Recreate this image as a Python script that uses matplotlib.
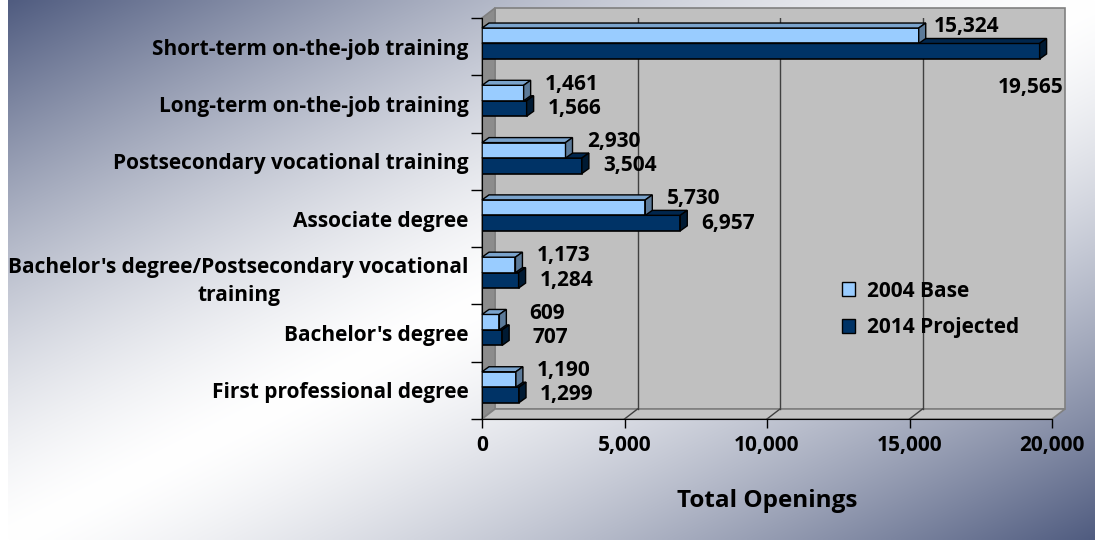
import numpy as np
import matplotlib
matplotlib.use("Agg")
import matplotlib.pyplot as plt
from matplotlib.patches import Polygon, Patch
from matplotlib.transforms import IdentityTransform

# ---------------- data ----------------
categories = [
    "Short-term on-the-job training",
    "Long-term on-the-job training",
    "Postsecondary vocational training",
    "Associate degree",
    "Bachelor's degree/Postsecondary vocational\ntraining",
    "Bachelor's degree",
    "First professional degree",
]
base_2004 = [15324, 1461, 2930, 5730, 1173, 609, 1190]
proj_2014 = [19565, 1566, 3504, 6957, 1284, 707, 1299]
series_names = ["2004 Base", "2014 Projected"]
xticks = [0, 5000, 10000, 15000, 20000]
xlabel = "Total Openings"

# ---------------- style ----------------
W, H = 1097, 540
FONT = "Open Sans"
FS = 15
plt.rcParams["font.family"] = [FONT, "DejaVu Sans"]
plt.rcParams["font.weight"] = "bold"

light, dark = "#99CCFF", "#003366"
light_top, light_side = "#7AA3CC", "#5C7A99"
dark_top, dark_side = "#00264D", "#001A33"
wall_c, left_c, floor_c = "#C0C0C0", "#8C8C8C", "#C4C4C4"
DX, DY = 13, 10        # wall depth (pixels)
BDX, BDY = 7, 5        # bar depth (pixels)

fig = plt.figure(figsize=(W / 100, H / 100), dpi=100)
fig.patch.set_facecolor("white")

# background gradient
bg = fig.add_axes([8 / W, 0, (1095 - 8) / W, 1], zorder=0)
gx = np.linspace(0, 1, 400)
gy = np.linspace(0, 1, 200)
GX, GY = np.meshgrid(gx, gy)
s = np.abs((GX + GY) - 1.0) ** 1.4
dark_bg = np.array([80, 92, 128]) / 255.0
img = (1 - s)[..., None] * np.array([1, 1, 1]) + s[..., None] * dark_bg
bg.imshow(img, aspect="auto", extent=[0, 1, 1, 0], interpolation="bilinear")
bg.set_xlim(0, 1); bg.set_ylim(1, 0)
bg.axis("off")

# main axes = front plane
x0, x1, ytop, ybot = 482, 1052, 18, 419
ax = fig.add_axes([x0 / W, 1 - ybot / H, (x1 - x0) / W, (ybot - ytop) / H], zorder=2)
ax.patch.set_visible(False)
n = len(categories)
ax.set_xlim(0, 20000)
ax.set_ylim(n, 0)

T = ax.transData


def disp(pts):
    return T.transform(np.asarray(pts, dtype=float))


def poly(pts_disp, fc, ec, lw=1.0, z=1):
    p = Polygon(pts_disp, closed=True, transform=IdentityTransform(),
                facecolor=fc, edgecolor=ec, linewidth=lw, zorder=z, clip_on=False)
    ax.add_artist(p)
    return p


xmax = ax.get_xlim()[1]
# walls
corners = disp([(0, n), (xmax, n), (xmax, 0), (0, 0)])
off = np.array([DX, DY])
back = corners + off
poly(back, wall_c, "#808080", 1.2, z=0.5)
poly(np.array([corners[0], corners[3], back[3], back[0]]), left_c, "#808080", 1.2, z=0.6)
poly(np.array([corners[0], corners[1], back[1], back[0]]), floor_c, "#808080", 1.2, z=0.6)

# gridlines on back wall and floor
for t in xticks[1:-1]:
    a = disp([(t, n)])[0]
    b = disp([(t, 0)])[0]
    ax.add_line(plt.Line2D([a[0] + DX, b[0] + DX], [a[1] + DY, b[1] + DY],
                           transform=IdentityTransform(), color="#404040", lw=1.0, zorder=0.8))
    ax.add_line(plt.Line2D([a[0], a[0] + DX], [a[1], a[1] + DY],
                           transform=IdentityTransform(), color="#404040", lw=1.0, zorder=0.8))

# bars
h = 0.27
center = np.arange(n) + 0.445
y_light = center - h / 2
y_dark = center + h / 2


def bar3d(vals, ys, fc, ftop, fside, z):
    ax.barh(ys, vals, height=h, color=fc, edgecolor="black", linewidth=1.2, zorder=z)
    for v, y in zip(vals, ys):
        tl, tr, br = disp([(0, y - h / 2), (v, y - h / 2), (v, y + h / 2)])
        poly([tl, tr, tr + [BDX, BDY], tl + [BDX, BDY]], ftop, "black", 1.0, z)
        poly([tr, br, br + [BDX, BDY], tr + [BDX, BDY]], fside, "black", 1.0, z)


bar3d(proj_2014, y_dark, dark, dark_top, dark_side, 2)
bar3d(base_2004, y_light, light, light_top, light_side, 3)

# value labels
lab_kw = dict(textcoords="offset pixels", ha="center", va="center",
              fontsize=FS, fontweight="bold", zorder=5, annotation_clip=False)
px_per_unit = (x1 - x0) / xmax
for v, y in zip(base_2004, y_light):
    ax.annotate(f"{v:,}", xy=(v, y), xytext=(48, 9), **lab_kw)
for v, y in zip(proj_2014, y_dark):
    if v * px_per_unit + 48 + 32 > (x1 - x0) + DX:
        ax.annotate(f"{v:,}", xy=(xmax, y), xytext=(-21, -36), **lab_kw)
    else:
        ax.annotate(f"{v:,}", xy=(v, y), xytext=(48, 0), **lab_kw)

# axes / ticks
for sname in ["top", "right"]:
    ax.spines[sname].set_visible(False)
ax.spines["bottom"].set_color("black")
ax.spines["left"].set_color("black")
ax.spines["bottom"].set_zorder(4)
ax.set_xticks(xticks)
ax.set_xticklabels([f"{t:,}" for t in xticks], fontsize=FS, fontweight="bold")
ax.tick_params(axis="x", direction="out", length=6.5, width=1, pad=5)
ax.set_yticks(np.arange(n + 1))
ax.set_yticklabels([])
ax.tick_params(axis="y", which="major", direction="out", length=8, width=1)
ax.set_yticks(np.arange(n) + 0.5, minor=True)
ax.set_yticklabels(categories, minor=True, fontsize=FS, fontweight="bold",
                   multialignment="center")
for lab in ax.get_yticklabels(minor=True):
    lab.set_linespacing(1.45)
ax.tick_params(axis="y", which="minor", length=0, pad=9.5)
ax.set_xlabel(xlabel, fontsize=17.5, fontweight="bold", labelpad=24)

# legend
handles = [Patch(facecolor=light, edgecolor="black"), Patch(facecolor=dark, edgecolor="black")]
leg = ax.legend(handles, series_names, loc="upper left", frameon=False,
                bbox_to_anchor=(823 / W, 1 - 262 / H), bbox_transform=fig.transFigure,
                prop=dict(family=FONT, weight="bold", size=FS),
                handlelength=0.65, handleheight=0.65, handletextpad=0.55, labelspacing=0.75)
leg.set_zorder(6)

fig.savefig("out.png", dpi=100)
